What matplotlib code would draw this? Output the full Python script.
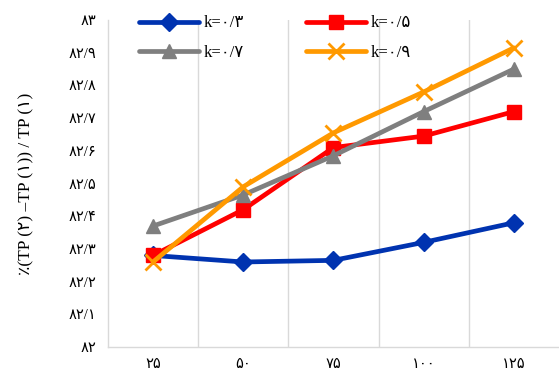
import matplotlib
matplotlib.use('Agg')
import matplotlib.pyplot as plt
from matplotlib.ticker import FixedLocator, FuncFormatter

FA_DIGITS = str.maketrans('0123456789.', '۰۱۲۳۴۵۶۷۸۹/')

x_labels = ['25', '50', '75', '100', '125']
k03 = [82.28, 82.26, 82.265, 82.32, 82.38]
k05 = [82.28, 82.42, 82.61, 82.645, 82.72]
k07 = [82.37, 82.465, 82.585, 82.72, 82.85]
k09 = [82.26, 82.49, 82.655, 82.78, 82.915]
series_names = ['k=0.3', 'k=0.5', 'k=0.7', 'k=0.9']
y_ticks = [82.0, 82.1, 82.2, 82.3, 82.4, 82.5, 82.6, 82.7, 82.8, 82.9, 83.0]


def fa(s):
    return s.translate(FA_DIGITS)


FONT = ['Liberation Serif', 'DejaVu Sans']

fig = plt.figure(figsize=(5.59, 3.78), dpi=100)
ax = fig.add_axes([0.193, 0.082, 0.807, 0.865])

xs = list(range(1, len(x_labels) + 1))
styles = [
    (k03, '#0033B0', 'D', 9),
    (k05, '#FF0000', 's', 9.5),
    (k07, '#7F7F7F', '^', 10),
    (k09, '#FF9900', 'x', 11),
]
lines = []
for (vals, color, marker, ms), name in zip(styles, series_names):
    ln, = ax.plot(xs, vals, color=color, lw=3.4, marker=marker, markersize=ms,
                  markeredgewidth=2 if marker == 'x' else 1, markeredgecolor=color,
                  solid_capstyle='round', label=fa(name))
    lines.append(ln)

ax.set_xlim(0.5, len(x_labels) + 0.5)
ax.set_ylim(82.0, 83.0)

# category gridlines sit between the points
ax.xaxis.set_minor_locator(FixedLocator([i + 0.5 for i in xs[:-1]]))
ax.grid(which='minor', axis='x', color='#D9D9D9', lw=1)
ax.set_xticks(xs)
ax.set_xticklabels([fa(s) for s in x_labels], fontfamily=FONT, fontsize=10.5)
ax.set_yticks(y_ticks)
ax.yaxis.set_major_formatter(FuncFormatter(lambda v, p: fa(f'{v:g}')))
for lab in ax.get_yticklabels():
    lab.set_fontfamily(FONT)
    lab.set_fontsize(10.5)
ax.tick_params(which='both', length=0)
ax.tick_params(axis='y', pad=8)
ax.tick_params(axis='x', pad=8)

for side in ['top', 'right']:
    ax.spines[side].set_visible(False)
for side in ['left', 'bottom']:
    ax.spines[side].set_color('#D9D9D9')
    ax.spines[side].set_linewidth(1)

ax.set_ylabel('٪(TP (۲) –TP (۱)) / TP (۱)', fontfamily=FONT, fontsize=12.5,
              labelpad=25)

# legend rows: 0.3 | 0.5 on top, 0.7 | 0.9 below
order = [0, 2, 1, 3]
leg = ax.legend([lines[i] for i in order], [lines[i].get_label() for i in order],
                ncol=2, loc='upper left', bbox_to_anchor=(0.035, 1.06),
                frameon=False, handlelength=3.6, columnspacing=3.7,
                handletextpad=0.3, labelspacing=0.8,
                prop={'family': FONT, 'size': 12})

fig.savefig('out.png', dpi=100, facecolor='white')
